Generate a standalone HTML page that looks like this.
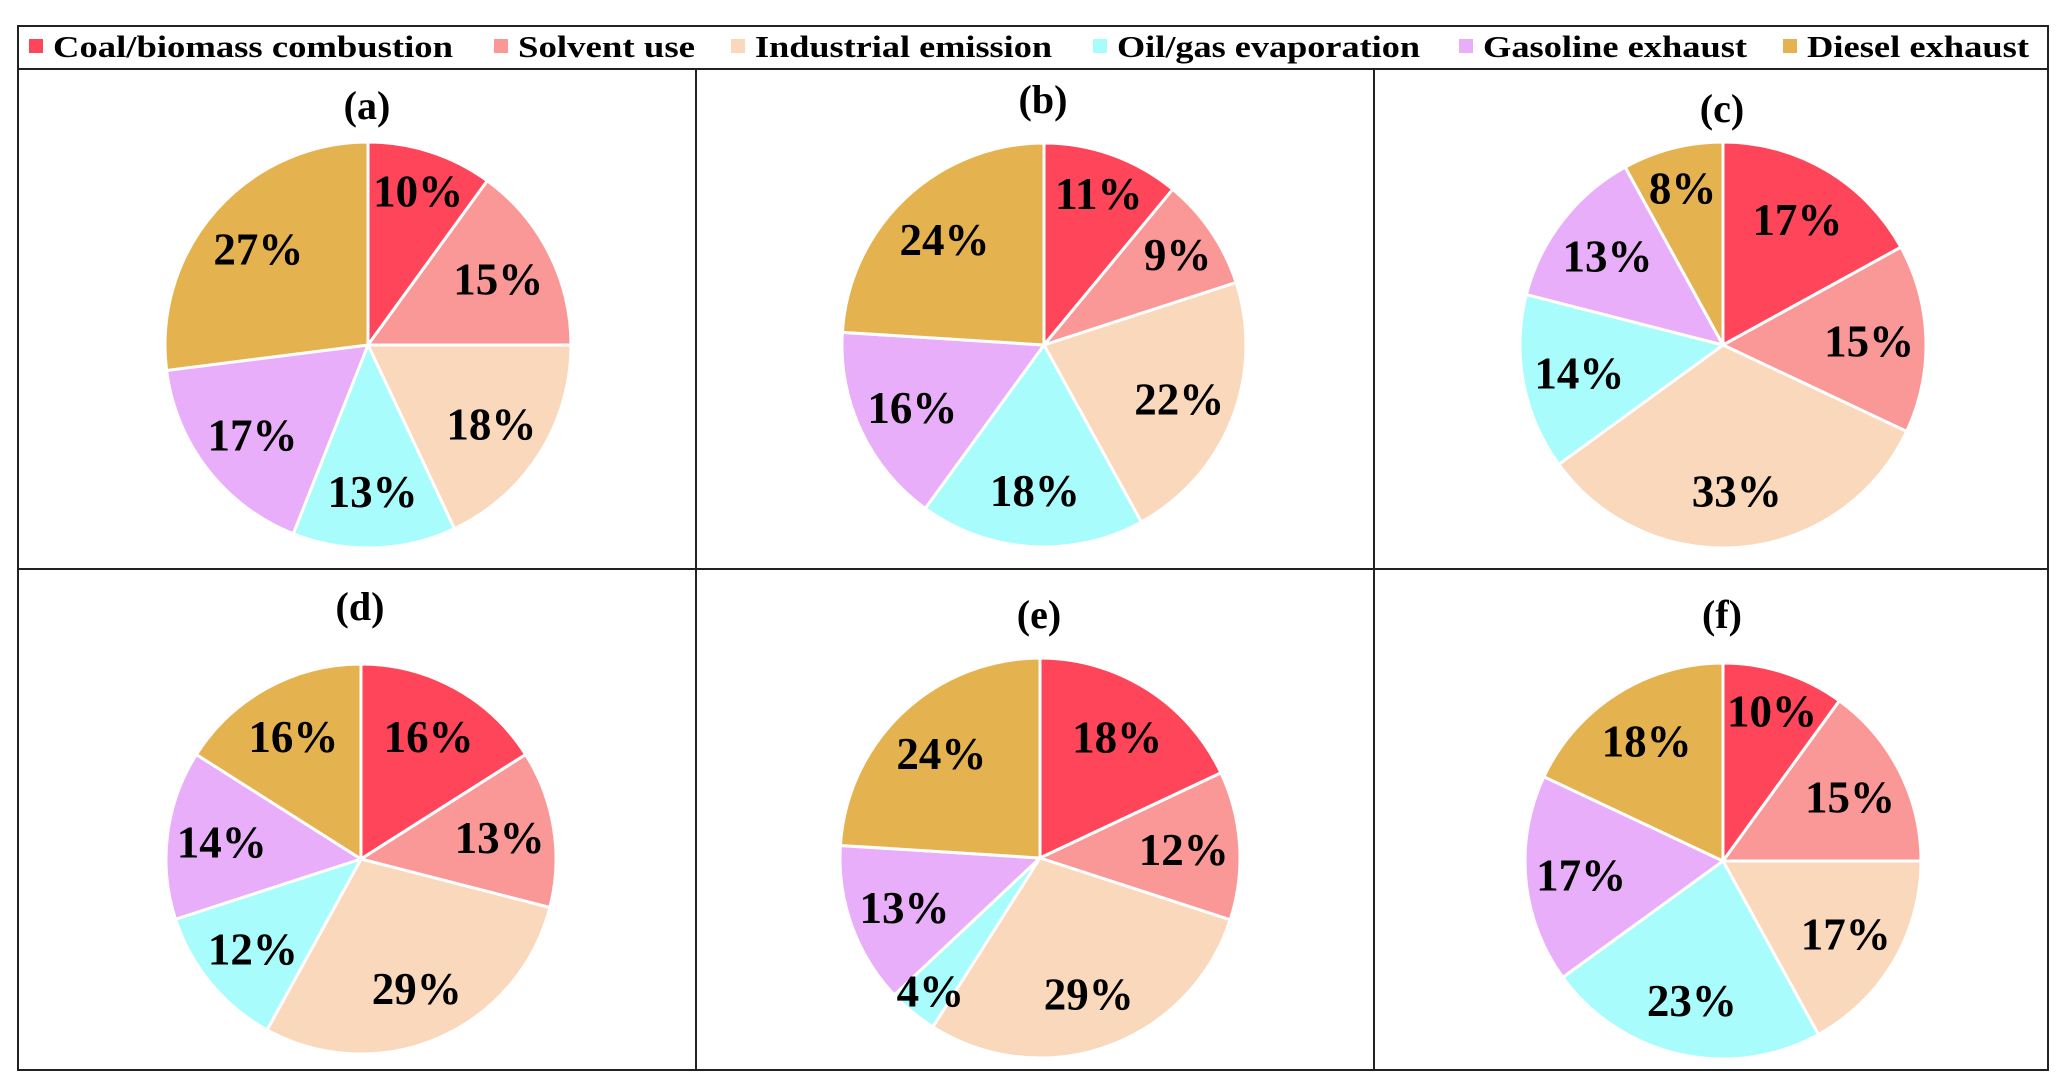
<!DOCTYPE html>
<html><head><meta charset="utf-8"><style>
html,body{margin:0;padding:0;background:#fff;}
svg{display:block;}
</style></head><body>
<svg id="chart" width="2067" height="1090" viewBox="0 0 2067 1090" xmlns="http://www.w3.org/2000/svg" font-family="'Liberation Serif', serif" font-weight="bold">
  <rect x="18" y="26" width="2030" height="43" fill="#fff" stroke="#222" stroke-width="2"/>
  <g id="legend"></g>
  <g stroke="#222" stroke-width="2" fill="none">
    <rect x="18" y="69" width="2030" height="1001"/>
    <line x1="18" y1="569" x2="2048" y2="569"/>
    <line x1="696" y1="69" x2="696" y2="1070"/>
    <line x1="1374" y1="69" x2="1374" y2="1070"/>
  </g>
  <g id="pies"></g>
</svg>
<script>
const categories = ["Coal/biomass combustion","Solvent use","Industrial emission","Oil/gas evaporation","Gasoline exhaust","Diesel exhaust"];
const colors = ["#FF4559","#F99897","#F9D8BC","#A8FCFC","#E9AEFA","#E5B250"];
const panelTitles = ["(a)","(b)","(c)","(d)","(e)","(f)"];
const valuesA = [10,15,18,13,17,27];
const valuesB = [11,9,22,18,16,24];
const valuesC = [17,15,33,14,13,8];
const valuesD = [16,13,29,12,14,16];
const valuesE = [18,12,29,4,13,24];
const valuesF = [10,15,17,23,17,18];

const NS = "http://www.w3.org/2000/svg";
const legend = document.getElementById("legend");
const pies = document.getElementById("pies");

const legendX = [29,494,731,1093,1459,1783];
const legendW = [400,177,297,303,264,222];
categories.forEach((c,i)=>{
  const sq = document.createElementNS(NS,"rect");
  
  
  sq.setAttribute("x", legendX[i]); sq.setAttribute("y", 39);
  sq.setAttribute("width", 14); sq.setAttribute("height", 14);
  sq.setAttribute("fill", colors[i]);
  legend.appendChild(sq);
  const t = document.createElementNS(NS,"text");
  
  
  t.setAttribute("x", legendX[i]+24); t.setAttribute("y", 57);
  t.setAttribute("font-size", 31);
  t.setAttribute("textLength", legendW[i]);
  t.setAttribute("lengthAdjust", "spacingAndGlyphs");
  t.textContent = c;
  legend.appendChild(t);
});

const panelLayout = [
  {cx:368, cy:345, r:203, ty:105},
  {cx:1044, cy:345, r:202, ty:99},
  {cx:1723, cy:345, r:203, ty:108},
  {cx:361, cy:859, r:195, ty:606},
  {cx:1040, cy:858, r:200, ty:614},
  {cx:1723, cy:861, r:198, ty:614}
];
const allValues = [valuesA,valuesB,valuesC,valuesD,valuesE,valuesF];

function polar(cx,cy,r,frac){
  const a = frac*2*Math.PI;
  return [cx + r*Math.sin(a), cy - r*Math.cos(a)];
}

allValues.forEach((vals,p)=>{
  const L = panelLayout[p];
  const g = document.createElementNS(NS,"g");
  
  
  pies.appendChild(g);
  const title = document.createElementNS(NS,"text");
  
  
  title.setAttribute("x", L.cx - 1); title.setAttribute("y", L.ty + 14);
  title.setAttribute("font-size", 40);
  title.setAttribute("text-anchor", "middle");
  title.textContent = panelTitles[p];
  g.appendChild(title);
  const total = vals.reduce((s,v)=>s+v,0);
  let acc = 0;
  const labels = [];
  vals.forEach((v,i)=>{
    const f0 = acc/total, f1 = (acc+v)/total;
    acc += v;
    const [x0,y0] = polar(L.cx,L.cy,L.r,f0);
    const [x1,y1] = polar(L.cx,L.cy,L.r,f1);
    const large = (f1-f0) > 0.5 ? 1 : 0;
    const path = document.createElementNS(NS,"path");
    
    
    path.setAttribute("d", `M${L.cx},${L.cy} L${x0},${y0} A${L.r},${L.r} 0 ${large} 1 ${x1},${y1} Z`);
    path.setAttribute("fill", colors[i]);
    path.setAttribute("stroke", "#fff");
    path.setAttribute("stroke-width", 3);
    path.setAttribute("stroke-linejoin", "round");
    g.appendChild(path);
    const frac = v/total;
    const rf = frac < 0.06 ? 0.86 : (frac < 0.12 ? 0.8 : 0.72);
    const [lx,ly] = polar(L.cx,L.cy,L.r*rf,(f0+f1)/2);
    labels.push([lx,ly,v]);
  });
  labels.forEach(([lx,ly,v])=>{
    const t = document.createElementNS(NS,"text");
    
    
    t.setAttribute("x", lx); t.setAttribute("y", ly + 16);
    t.setAttribute("font-size", 45);
    t.setAttribute("text-anchor", "middle");
    t.textContent = v + "%";
    g.appendChild(t);
  });
});
</script>
</body></html>
